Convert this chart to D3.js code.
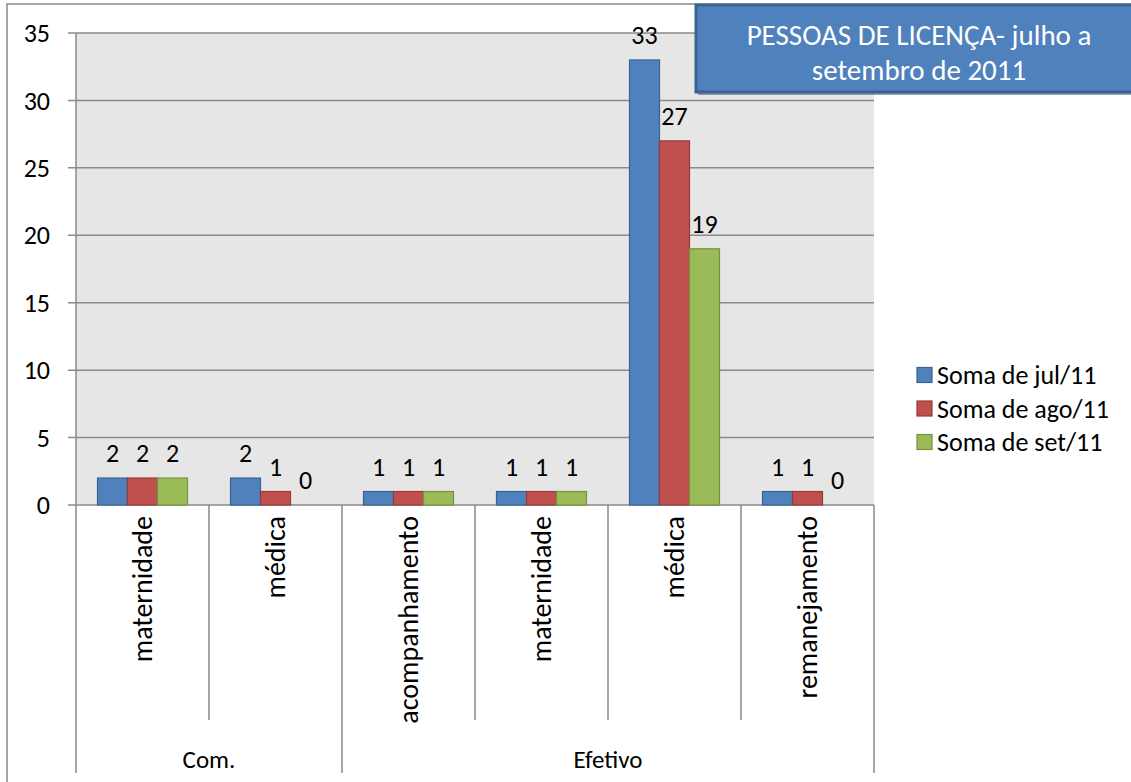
<!DOCTYPE html>
<html><head><meta charset="utf-8">
<script src="https://cdn.jsdelivr.net/npm/d3@7"></script>
<style>body{margin:0;background:#fff}svg{display:block}text{font-family:Calibri,Carlito,Lato,sans-serif}</style>
</head><body>
<svg id="c" width="1131" height="782"></svg>
<script>
const groups = ["Com.", "Efetivo"];
const categories = ["maternidade","médica","acompanhamento","maternidade","médica","remanejamento"];
const categoryGroup = [0,0,1,1,1,1];
const seriesNames = ["Soma de jul/11","Soma de ago/11","Soma de set/11"];
const jul = [2,2,1,1,33,1];
const ago = [2,1,1,1,27,1];
const set = [2,0,1,1,19,0];
const yTicks = [0,5,10,15,20,25,30,35];
const titleLines = ["PESSOAS DE LICENÇA- julho a","setembro de 2011"];
const fills = ["#4F81BD","#C0504D","#9BBB59"];
const strokes = ["#3A6394","#943B39","#76923F"];

const svg = d3.select("#c");
const X0=76, X1=874, Y0=505, YT=33;
const y = d3.scaleLinear().domain([0,35]).range([Y0,YT]);
const x = d3.scaleBand().domain(d3.range(categories.length)).range([X0,X1]).padding(0);
const xs = d3.scaleBand().domain(d3.range(3)).range([0,x.bandwidth()]).paddingInner(0).paddingOuter(0.717);
const grey="#8A8A8A";

// outer border
svg.append("path").attr("d","M7,782 V4 H1131").attr("fill","none").attr("stroke",grey).attr("stroke-width",1.5);

// plot bg
svg.append("rect").attr("x",X0).attr("y",YT).attr("width",X1-X0).attr("height",Y0-YT).attr("fill","#E6E6E6");
// gridlines + ticks
svg.append("g").selectAll("line").data(yTicks).join("line")
  .attr("x1",68).attr("x2",X1).attr("y1",d=>y(d)).attr("y2",d=>y(d))
  .attr("stroke",grey).attr("stroke-width",1.5);
svg.append("g").selectAll("text").data(yTicks).join("text")
  .attr("x",50).attr("y",d=>y(d)).attr("dy","0.35em").attr("text-anchor","end")
  .attr("font-size",26).attr("fill","#000").text(d=>d);

// category frame
const bounds = d3.range(categories.length+1);
svg.append("g").selectAll("line").data(bounds).join("line")
  .attr("x1",i=>X0+i*x.step()).attr("x2",i=>X0+i*x.step())
  .attr("y1",i=>i===0?YT:Y0)
  .attr("y2",i=>(i===0||i===categories.length||categoryGroup[i]!==categoryGroup[i-1])?773:720)
  .attr("stroke",grey).attr("stroke-width",1.5);

// bars
const seriesData=[jul,ago,set];
seriesData.forEach((vals,s)=>{
  const g=svg.append("g");
  g.selectAll("rect").data(vals.map((v,i)=>({v,i}))).join("rect")
    .attr("x",d=>x(d.i)+xs(s)).attr("width",xs.bandwidth())
    .attr("y",d=>y(d.v)).attr("height",d=>Y0-y(d.v))
    .attr("fill",fills[s]).attr("stroke",strokes[s]).attr("stroke-width",d=>d.v>0?1.2:0);
  g.selectAll("text").data(vals.map((v,i)=>({v,i}))).join("text")
    .attr("x",d=>x(d.i)+xs(s)+xs.bandwidth()/2).attr("y",d=>y(d.v)-25)
    .attr("dy","0.35em").attr("text-anchor","middle").attr("font-size",26).attr("fill","#000").text(d=>d.v);
});

// category labels
svg.append("g").selectAll("text").data(categories).join("text")
  .attr("transform",(d,i)=>`translate(${x(i)+x.bandwidth()/2},516) rotate(-90)`)
  .attr("dy","0.35em").attr("text-anchor","end").attr("font-size",28).attr("fill","#000").text(d=>d);

// group labels
groups.forEach((gname,gi)=>{
  const idx=categoryGroup.map((g,i)=>g===gi?i:-1).filter(i=>i>=0);
  const cx=(x(idx[0])+x(idx[idx.length-1])+x.bandwidth())/2;
  svg.append("text").attr("x",cx).attr("y",759).attr("dy","0.35em").attr("text-anchor","middle")
    .attr("font-size",25).attr("fill","#000").text(gname);
});

// legend
const lg=svg.append("g");
seriesNames.forEach((n,i)=>{
  const cy=375+i*33.5;
  lg.append("rect").attr("x",917).attr("y",cy-7.5).attr("width",15).attr("height",15)
    .attr("fill",fills[i]).attr("stroke",strokes[i]).attr("stroke-width",1.2);
  lg.append("text").attr("x",937).attr("y",cy).attr("dy","0.35em").attr("font-size",26).attr("fill","#000").text(n);
});

// title box
svg.append("rect").attr("x",698).attr("y",8).attr("width",440).attr("height",87).attr("fill","#2E4A6E").attr("opacity",0.5);
svg.append("rect").attr("x",696).attr("y",5).attr("width",440).attr("height",87)
  .attr("fill","#4F81BD").attr("stroke","#3B6291").attr("stroke-width",3);
titleLines.forEach((t,i)=>{
  svg.append("text").attr("x",919).attr("y",35+i*35).attr("dy","0.35em").attr("text-anchor","middle")
    .attr("font-size",29).attr("fill","#fff").text(t);
});
</script>
</body></html>
